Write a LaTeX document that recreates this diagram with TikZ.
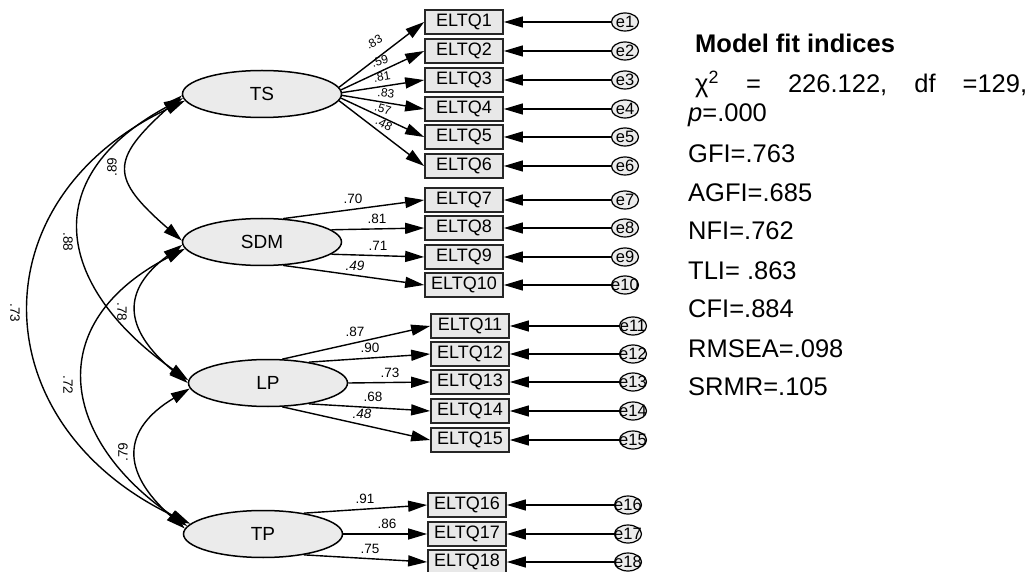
\documentclass[tikz,border=0pt]{standalone}
\usepackage{fontspec}
\setmainfont{Liberation Sans}
\usetikzlibrary{arrows.meta,shapes.geometric}
\definecolor{latfill}{RGB}{235,235,235}
\definecolor{obsfill}{RGB}{232,232,232}
\definecolor{errfill}{RGB}{236,236,236}
\begin{document}
\begin{tikzpicture}[x=1pt,y=-1pt,
  >={Triangle[length=19pt,width=11pt]},
  lat/.style={ellipse,draw=black,line width=1.5pt,fill=latfill,minimum width=159pt,minimum height=47pt,inner sep=0pt,font=\fontsize{19}{22}\selectfont},
  obs/.style={rectangle,draw=black!85,line width=1.7pt,fill=obsfill,minimum width=78pt,minimum height=24pt,inner sep=0pt,font=\fontsize{18}{20}\selectfont},
  err/.style={ellipse,draw=black,line width=1.2pt,fill=errfill,minimum width=27pt,minimum height=18pt,inner sep=0pt},
  elab/.style={font=\fontsize{16.5}{18}\selectfont,inner sep=0pt},
  load/.style={line width=1.4pt,->},
  resid/.style={line width=1.2pt,->},
  cov/.style={line width=1.4pt,<->},
  coef/.style={font=\fontsize{13.5}{15}\selectfont,inner sep=0pt},
  tscoef/.style={font=\fontsize{12}{14}\selectfont,inner sep=0pt},
  fitline/.style={font=\fontsize{25.5}{28}\selectfont,inner sep=0pt,anchor=base west}
]
\useasboundingbox (0,0) rectangle (1029,572);

% latent variables
\node[lat] (TS)  at (262,94)  {TS};
\node[lat] (SDM) at (262,242) {SDM};
\node[lat] (LP)  at (268,383) {LP};
\node[lat] (TP)  at (263,534) {TP};

% observed variables and errors
\foreach \i/\y in {1/22,2/51,3/80,4/109,5/137,6/166,7/200,8/228,9/257,10/285}{
  \node[obs] (q\i) at (464,\y) {ELTQ\i};
  \node[err,label={[elab]center:e\i}] (e\i) at (625,\y) {};
  \draw[resid] (e\i) -- (q\i);
}
\foreach \i/\y in {11/326,12/354,13/382,14/411,15/440}{
  \node[obs] (q\i) at (470,\y) {ELTQ\i};
  \node[err,label={[elab]center:e\i}] (e\i) at (633,\y) {};
  \draw[resid] (e\i) -- (q\i);
}
\foreach \i/\y in {16/505,17/534,18/562}{
  \node[obs] (q\i) at (467,\y) {ELTQ\i};
  \node[err,label={[elab]center:e\i}] (e\i) at (628,\y) {};
  \draw[resid] (e\i) -- (q\i);
}

% loadings TS
\draw[load] (TS.5)  -- (q1.west);
\draw[load] (TS.3)  -- (q2.west);
\draw[load] (TS.1)  -- (q3.west);
\draw[load] (TS.-1) -- (q4.west);
\draw[load] (TS.-3) -- (q5.west);
\draw[load] (TS.-5) -- (q6.west);
\node[tscoef,rotate=30]  (l1) at (374,42)  {.83};
\node[tscoef,rotate=16]  (l2) at (380,61)  {.59};
\node[tscoef,rotate=9]   (l3) at (382,77)  {.81};
\node[tscoef,rotate=-7]  (l4) at (386,93)  {.83};
\node[tscoef,rotate=-16] (l5) at (383,109) {.57};
\node[tscoef,rotate=-28] (l6) at (384,124) {.48};

% loadings SDM
\draw[load] (SDM.48)  -- (q7.west);
\draw[load] (SDM.10)  -- (q8.west);
\draw[load] (SDM.-10) -- (q9.west);
\draw[load] (SDM.-48) -- (q10.west);
\node[coef] (l7)  at (353,199) {.70};
\node[coef] (l8)  at (377,219) {.81};
\node[coef] (l9)  at (378,246) {.71};
\node[coef,font=\fontsize{13.5}{15}\selectfont\itshape] (l10) at (355,266) {.49};

% loadings LP
\draw[load] (LP.59)  -- (q11.west);
\draw[load] (LP.27)  -- (q12.west);
\draw[load] (LP.east) -- (q13.west);
\draw[load] (LP.-27) -- (q14.west);
\draw[load] (LP.-59) -- (q15.west);
\node[coef] (l11) at (355,332) {.87};
\node[coef] (l12) at (370,348) {.90};
\node[coef] (l13) at (390,373) {.73};
\node[coef] (l14) at (373,397) {.68};
\node[coef,font=\fontsize{13.5}{15}\selectfont\itshape] (l15) at (362,414) {.48};

% loadings TP
\draw[load] (TP.27)  -- (q16.west);
\draw[load] (TP.east) -- (q17.west);
\draw[load] (TP.-27) -- (q18.west);
\node[coef] (l16) at (365,499) {.91};
\node[coef] (l17) at (387,524) {.86};
\node[coef] (l18) at (370,549) {.75};

% covariances
\draw[cov] (TS.181) .. controls (110,160) and (110,178) .. (SDM.179);
\draw[cov] (TS.183) .. controls (32,180) and (60,290) .. (LP.178);
\draw[cov] (TS.185) .. controls (-25,200) and (-18,425) .. (TP.172);
\draw[cov] (SDM.182) .. controls (122,290) and (122,328) .. (LP.180);
\draw[cov] (SDM.185) .. controls (40,324) and (62,440) .. (TP.174);
\draw[cov] (LP.184) .. controls (121,430) and (121,472) .. (TP.176);
\node[coef,rotate=90]  (c1) at (112,167) {.89};
\node[coef,rotate=-90] (c2) at (68,242)  {.88};
\node[coef,rotate=-90] (c3) at (15,313)  {.73};
\node[coef,rotate=-90] (c4) at (122,312) {.78};
\node[coef,rotate=-90] (c5) at (68,385)  {.72};
\node[coef,rotate=90]  (c6) at (123,452) {.79};

% fit indices
\node[fitline] (f0) at (695,53)  {\bfseries Model fit indices};
\node[fitline] (f1) at (695,93)  {\hbox to 332pt{χ\textsuperscript{2}\hfill=\hfill226.122,\hfill df\hfill=129,}};
\node[fitline] (f2) at (688,122) {\textit{p}=.000};
\node[fitline] (f3) at (688,163) {GFI=.763};
\node[fitline] (f4) at (688,202) {AGFI=.685};
\node[fitline] (f5) at (688,240) {NFI=.762};
\node[fitline] (f6) at (688,280) {TLI= .863};
\node[fitline] (f7) at (688,318) {CFI=.884};
\node[fitline] (f8) at (688,358) {RMSEA=.098};
\node[fitline] (f9) at (688,395) {SRMR=.105};
\end{tikzpicture}
\end{document}
